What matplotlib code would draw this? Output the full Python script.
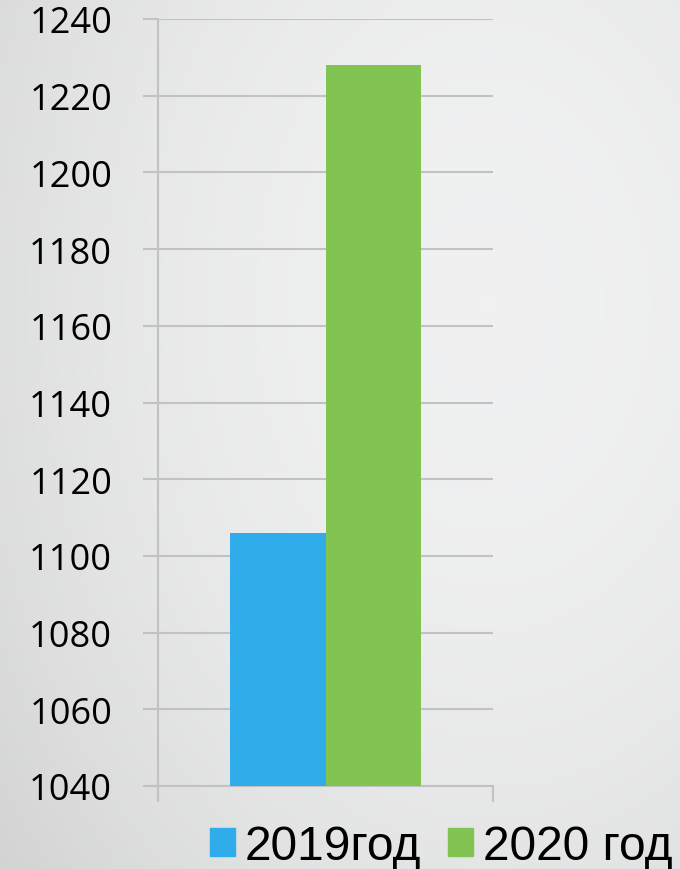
import numpy as np
import matplotlib
matplotlib.use("Agg")
import matplotlib.pyplot as plt
from matplotlib.patches import Patch

series = ["2019год", "2020 год"]
values = [1106, 1228]
colors = ["#30ACEA", "#82C451"]
yticks = [1040, 1060, 1080, 1100, 1120, 1140, 1160, 1180, 1200, 1220, 1240]

W, H = 680, 870
fig = plt.figure(figsize=(W / 100, H / 100), dpi=100)

# background gradient
bg = fig.add_axes([0, 0, 1, 1], zorder=-10)
yy, xx = np.mgrid[0:1:200j, 0:1:160j]
d = np.sqrt(((xx - 0.72) / 1.0) ** 2 + ((yy - 0.35) / 1.1) ** 2)
val = 0.947 - 0.135 * d ** 2
img = np.dstack([val * 0.995, val * 0.998, val * 1.0])
bg.imshow(np.clip(img, 0, 1), aspect="auto", extent=[0, 1, 0, 1], origin="upper", interpolation="bicubic")
bg.axis("off")

ax = fig.add_axes([158 / W, 1 - 787 / H, (493 - 158) / W, (787 - 20) / H])
ax.patch.set_alpha(0)
bw = 0.284
offsets = [-bw / 2, bw / 2]
for s, v, c, o in zip(series, values, colors, offsets):
    ax.bar(o, v - yticks[0], bottom=yticks[0], width=bw, color=c, label=s, zorder=3)

ax.set_xlim(-0.5, 0.5)
ax.set_ylim(yticks[0], yticks[-1])
ax.set_yticks(yticks)
ax.set_yticklabels([str(t) for t in yticks], fontsize=26, family="Open Sans")
ax.grid(axis="y", color="#c2c2c2", linewidth=1.5, zorder=0)
ax.set_xticks([-0.5, 0.5])
ax.set_xticklabels(["", ""])
for sp in ["top", "right"]:
    ax.spines[sp].set_visible(False)
for sp in ["left", "bottom"]:
    ax.spines[sp].set_color("#c2c2c2")
    ax.spines[sp].set_linewidth(1.5)
ax.tick_params(axis="y", length=11, width=1.5, color="#c2c2c2", pad=22, labelcolor="black")
ax.tick_params(axis="x", length=11.5, width=1.5, color="#c2c2c2")

handles = [Patch(color=c, label=s) for s, c in zip(series, colors)]
fig.legend(handles=handles, loc="lower right", bbox_to_anchor=(1.031, -0.033), ncol=2,
           frameon=False, prop={"family": "Liberation Sans", "size": 34.5},
           handlelength=0.53, handleheight=0.53, handletextpad=0.2, columnspacing=0.55,
           borderaxespad=0.2)

fig.savefig("out.png", dpi=100)
